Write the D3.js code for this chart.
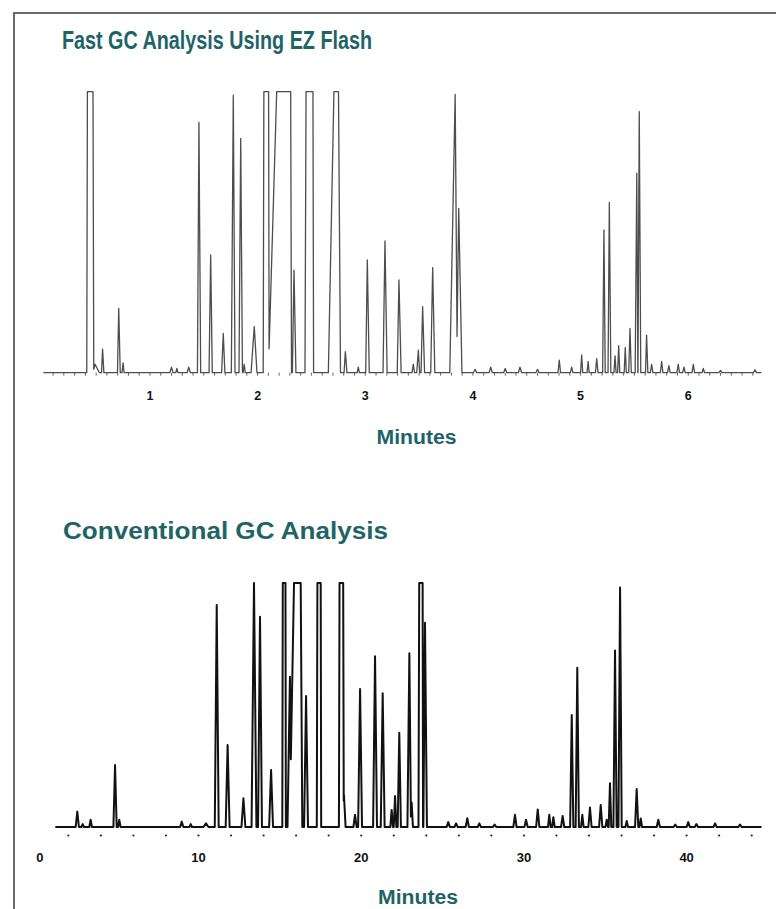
<!DOCTYPE html>
<html>
<head>
<meta charset="utf-8">
<script src="https://cdn.jsdelivr.net/npm/d3@7"></script>
<style>
  body { margin: 0; background: #fff; }
  svg { display: block; }
</style>
</head>
<body>
<svg width="776" height="909"></svg>
<script>

// peaks: [retention time (min), height (fraction of full scale, >1 = off scale), left half-width, right half-width]
const fastPeaks = [
    [0.443, 5, 0.03, 0.035], [0.49, 0.03, 0.02, 0.04], [0.56, 0.084, 0.01, 0.012], [0.71, 0.229, 0.012, 0.014], [0.75, 0.035, 0.01, 0.01],
    [1.20, 0.02, 0.015, 0.015], [1.25, 0.015, 0.01, 0.01], [1.36, 0.02, 0.015, 0.015],
    [1.455, 0.891, 0.014, 0.016], [1.564, 0.419, 0.015, 0.015], [1.681, 0.14, 0.015, 0.015],
    [1.774, 0.988, 0.018, 0.016], [1.843, 0.834, 0.016, 0.016], [1.875, 0.03, 0.01, 0.01],
    [1.969, 0.164, 0.03, 0.025], [2.082, 5, 0.03, 0.025], [2.295, 2.53, 0.195, 0.02],
    [2.338, 0.365, 0.015, 0.018], [2.49, 5, 0.05, 0.03], [2.74, 1.6, 0.083, 0.03],
    [2.815, 0.075, 0.012, 0.015], [2.935, 0.02, 0.01, 0.01], [3.019, 0.401, 0.015, 0.018],
    [3.183, 0.469, 0.018, 0.02], [3.313, 0.33, 0.016, 0.02], [3.446, 0.03, 0.012, 0.012],
    [3.493, 0.08, 0.015, 0.012], [3.533, 0.235, 0.015, 0.018], [3.626, 0.374, 0.018, 0.02],
    [3.835, 0.99, 0.05, 0.02], [3.868, 0.585, 0.02, 0.03],
    [4.02, 0.012, 0.015, 0.015], [4.165, 0.02, 0.015, 0.015], [4.30, 0.015, 0.015, 0.015],
    [4.437, 0.02, 0.015, 0.015], [4.60, 0.012, 0.015, 0.015], [4.802, 0.045, 0.012, 0.012],
    [4.917, 0.02, 0.012, 0.012], [5.01, 0.063, 0.01, 0.01], [5.07, 0.04, 0.01, 0.01],
    [5.15, 0.05, 0.012, 0.012], [5.217, 0.508, 0.012, 0.012], [5.267, 0.606, 0.012, 0.014],
    [5.32, 0.06, 0.01, 0.01], [5.354, 0.096, 0.01, 0.01], [5.415, 0.09, 0.01, 0.01],
    [5.459, 0.158, 0.012, 0.012], [5.522, 0.71, 0.015, 0.01], [5.545, 0.929, 0.012, 0.014],
    [5.613, 0.134, 0.01, 0.012], [5.66, 0.03, 0.012, 0.012], [5.753, 0.04, 0.012, 0.012],
    [5.82, 0.025, 0.012, 0.012], [5.907, 0.03, 0.012, 0.012], [5.96, 0.02, 0.012, 0.012],
    [6.047, 0.03, 0.012, 0.012], [6.14, 0.015, 0.012, 0.012], [6.30, 0.008, 0.015, 0.015],
    [6.62, 0.01, 0.015, 0.015]
];

const convPeaks = [
    [2.55, 0.063, 0.1, 0.1], [2.88, 0.012, 0.08, 0.08], [3.37, 0.03, 0.08, 0.08],
    [4.87, 0.254, 0.1, 0.1], [5.13, 0.03, 0.08, 0.08], [8.97, 0.022, 0.1, 0.1],
    [9.52, 0.012, 0.08, 0.08], [10.46, 0.015, 0.15, 0.15], [11.12, 0.91, 0.12, 0.12],
    [11.79, 0.336, 0.12, 0.12], [12.76, 0.118, 0.12, 0.12], [13.41, 1.0, 0.15, 0.15],
    [13.78, 0.862, 0.12, 0.12], [14.46, 0.234, 0.12, 0.12], [15.27, 4, 0.12, 0.1],
    [15.62, 0.616, 0.15, 0.1], [16.17, 2.11, 0.57, 0.21], [16.61, 0.537, 0.12, 0.12],
    [17.42, 4, 0.15, 0.12], [18.78, 4, 0.15, 0.15], [18.94, 0.131, 0.08, 0.1],
    [19.62, 0.05, 0.1, 0.1], [19.93, 0.566, 0.12, 0.12], [20.85, 0.70, 0.12, 0.12],
    [21.32, 0.548, 0.12, 0.12], [21.87, 0.07, 0.08, 0.08], [22.08, 0.127, 0.08, 0.08],
    [22.34, 0.386, 0.1, 0.1], [22.96, 0.712, 0.12, 0.1], [23.10, 0.10, 0.08, 0.08],
    [23.70, 4, 0.18, 0.1], [23.92, 0.837, 0.1, 0.12],
    [25.35, 0.02, 0.1, 0.1], [25.83, 0.015, 0.1, 0.1], [26.52, 0.036, 0.1, 0.1],
    [27.26, 0.015, 0.1, 0.1], [28.2, 0.01, 0.1, 0.1], [29.45, 0.05, 0.1, 0.1],
    [30.13, 0.03, 0.1, 0.1], [30.85, 0.072, 0.1, 0.1], [31.56, 0.05, 0.08, 0.08],
    [31.81, 0.04, 0.08, 0.08], [32.38, 0.045, 0.1, 0.1], [32.94, 0.459, 0.1, 0.1],
    [33.28, 0.653, 0.1, 0.1], [33.59, 0.05, 0.08, 0.08], [34.06, 0.08, 0.1, 0.1],
    [34.72, 0.09, 0.1, 0.1], [35.09, 0.03, 0.08, 0.08], [35.29, 0.179, 0.08, 0.08],
    [35.60, 0.723, 0.1, 0.1], [35.91, 0.982, 0.1, 0.1], [36.32, 0.025, 0.08, 0.08],
    [36.93, 0.156, 0.1, 0.1], [37.18, 0.035, 0.08, 0.08], [38.26, 0.03, 0.1, 0.1],
    [39.3, 0.01, 0.1, 0.1], [40.10, 0.02, 0.1, 0.1], [40.6, 0.012, 0.1, 0.1],
    [41.75, 0.015, 0.1, 0.1], [43.28, 0.01, 0.1, 0.1]
];

// run ranges and tick labels
const fastRange = [0.01, 6.68];
const convRange = [1.2, 44.6];
const fastLabels = [1, 2, 3, 4, 5, 6];
const convLabels = [0, 10, 20, 30, 40];
const fastMinorStep = 0.1;
const convDotStep = 2;

const TEAL = "#1e6467";

var svg = d3.select("svg");

// frame
svg.append("path")
    .attr("d", "M14,909V13H776")
    .attr("fill", "none")
    .attr("stroke", "#6a6a6a")
    .attr("stroke-width", 2);

// build trace points from the peak list, peaks drawn as triangles,
// overlapping flanks meet in a valley, anything over full scale is flat-topped
function buildTrace(peaks, range) {
    let pts = [[range[0], 0]];
    let prev = null;
    peaks.slice().sort((a, b) => a[0] - b[0]).forEach(p => {
        const [t, h, wl, wr] = p;
        const left = t - wl;
        if (prev && left < prev[0] + prev[3]) {
            const [pt, ph, , pwr] = prev;
            const pr = pt + pwr;
            const a = ph / pwr, b = h / wl;
            const x = (a * pr + b * left) / (a + b);
            const y = b * (x - left);
            pts.pop();
            if (x > pt && x < t) pts.push([x, y]);
            else pts.push([left, 0]);
        } else {
            pts.push([left, 0]);
        }
        pts.push([t, h], [t + wr, 0]);
        prev = p;
    });
    pts.push([range[1], 0]);

    let out = [];
    pts.forEach((q, i) => {
        if (i > 0) {
            const r = pts[i - 1];
            if ((r[1] - 1) * (q[1] - 1) < 0) {
                const f = (1 - r[1]) / (q[1] - r[1]);
                out.push([r[0] + f * (q[0] - r[0]), 1]);
            }
        }
        out.push([q[0], Math.min(q[1], 1)]);
    });
    return out;
}

//
// Fast GC chart
//
svg.append("text")
    .attr("x", 62).attr("y", 48.5)
    .attr("textLength", 310).attr("lengthAdjust", "spacingAndGlyphs")
    .style("font", "bold 25px 'Liberation Sans Narrow', 'Liberation Sans', Arial, sans-serif")
    .attr("fill", TEAL)
    .text("Fast GC Analysis Using EZ Flash");

var xFast = d3.scaleLinear().domain([0, 6.7]).range([42.3, 763.6]);
var yFast = d3.scaleLinear().domain([0, 1]).range([372.7, 91.7]);

var fastLine = d3.line()
    .x(d => xFast(d[0]))
    .y(d => yFast(d[1]));

// minor ticks under the baseline
var fastTicks = d3.range(1, Math.round(6.6 / fastMinorStep) + 1).map(i => i * fastMinorStep);
svg.append("g")
    .selectAll("line")
    .data(fastTicks)
    .enter().append("line")
    .attr("x1", d => xFast(d)).attr("x2", d => xFast(d))
    .attr("y1", yFast(0)).attr("y2", yFast(0) + 3)
    .attr("stroke", "#666")
    .attr("stroke-width", 1);

svg.append("path")
    .datum(buildTrace(fastPeaks, fastRange))
    .attr("d", fastLine)
    .attr("fill", "none")
    .attr("stroke", "#4d4d4d")
    .attr("stroke-width", 1.3)
    .attr("stroke-linejoin", "round");

svg.append("g")
    .selectAll("text")
    .data(fastLabels)
    .enter().append("text")
    .attr("x", d => xFast(d))
    .attr("y", 399.5)
    .attr("text-anchor", "middle")
    .style("font", "bold 12.5px 'Liberation Sans', Arial, sans-serif")
    .attr("fill", "#111")
    .text(d => d);

svg.append("text")
    .attr("x", 416.5).attr("y", 444)
    .attr("text-anchor", "middle")
    .attr("textLength", 80).attr("lengthAdjust", "spacingAndGlyphs")
    .style("font", "bold 20px 'Liberation Sans', Arial, sans-serif")
    .attr("fill", TEAL)
    .text("Minutes");

//
// Conventional GC chart
//
svg.append("text")
    .attr("x", 63).attr("y", 539)
    .attr("textLength", 325).attr("lengthAdjust", "spacingAndGlyphs")
    .style("font", "bold 23px 'Liberation Sans', Arial, sans-serif")
    .attr("fill", TEAL)
    .text("Conventional GC Analysis");

var xConv = d3.scaleLinear().domain([0, 44]).range([35.8, 751.7]);
var yConv = d3.scaleLinear().domain([0, 1]).range([827, 583]);

var convLine = d3.line()
    .x(d => xConv(d[0]))
    .y(d => yConv(d[1]));

// dots every 2 minutes under the baseline
var convDots = d3.range(1, 23).map(i => i * convDotStep);
svg.append("g")
    .selectAll("circle")
    .data(convDots)
    .enter().append("circle")
    .attr("cx", d => xConv(d))
    .attr("cy", 835.5)
    .attr("r", 1.1)
    .attr("fill", "#222");

svg.append("path")
    .datum(buildTrace(convPeaks, convRange))
    .attr("d", convLine)
    .attr("fill", "none")
    .attr("stroke", "#111")
    .attr("stroke-width", 2)
    .attr("stroke-linejoin", "round");

svg.append("g")
    .selectAll("text")
    .data(convLabels)
    .enter().append("text")
    .attr("x", d => xConv(d) + (d === 0 ? 4 : 0))
    .attr("y", 862)
    .attr("text-anchor", "middle")
    .style("font", "bold 13px 'Liberation Sans', Arial, sans-serif")
    .attr("fill", "#111")
    .text(d => d);

svg.append("text")
    .attr("x", 418).attr("y", 904)
    .attr("text-anchor", "middle")
    .attr("textLength", 80).attr("lengthAdjust", "spacingAndGlyphs")
    .style("font", "bold 20px 'Liberation Sans', Arial, sans-serif")
    .attr("fill", TEAL)
    .text("Minutes");

</script>
</body>
</html>
